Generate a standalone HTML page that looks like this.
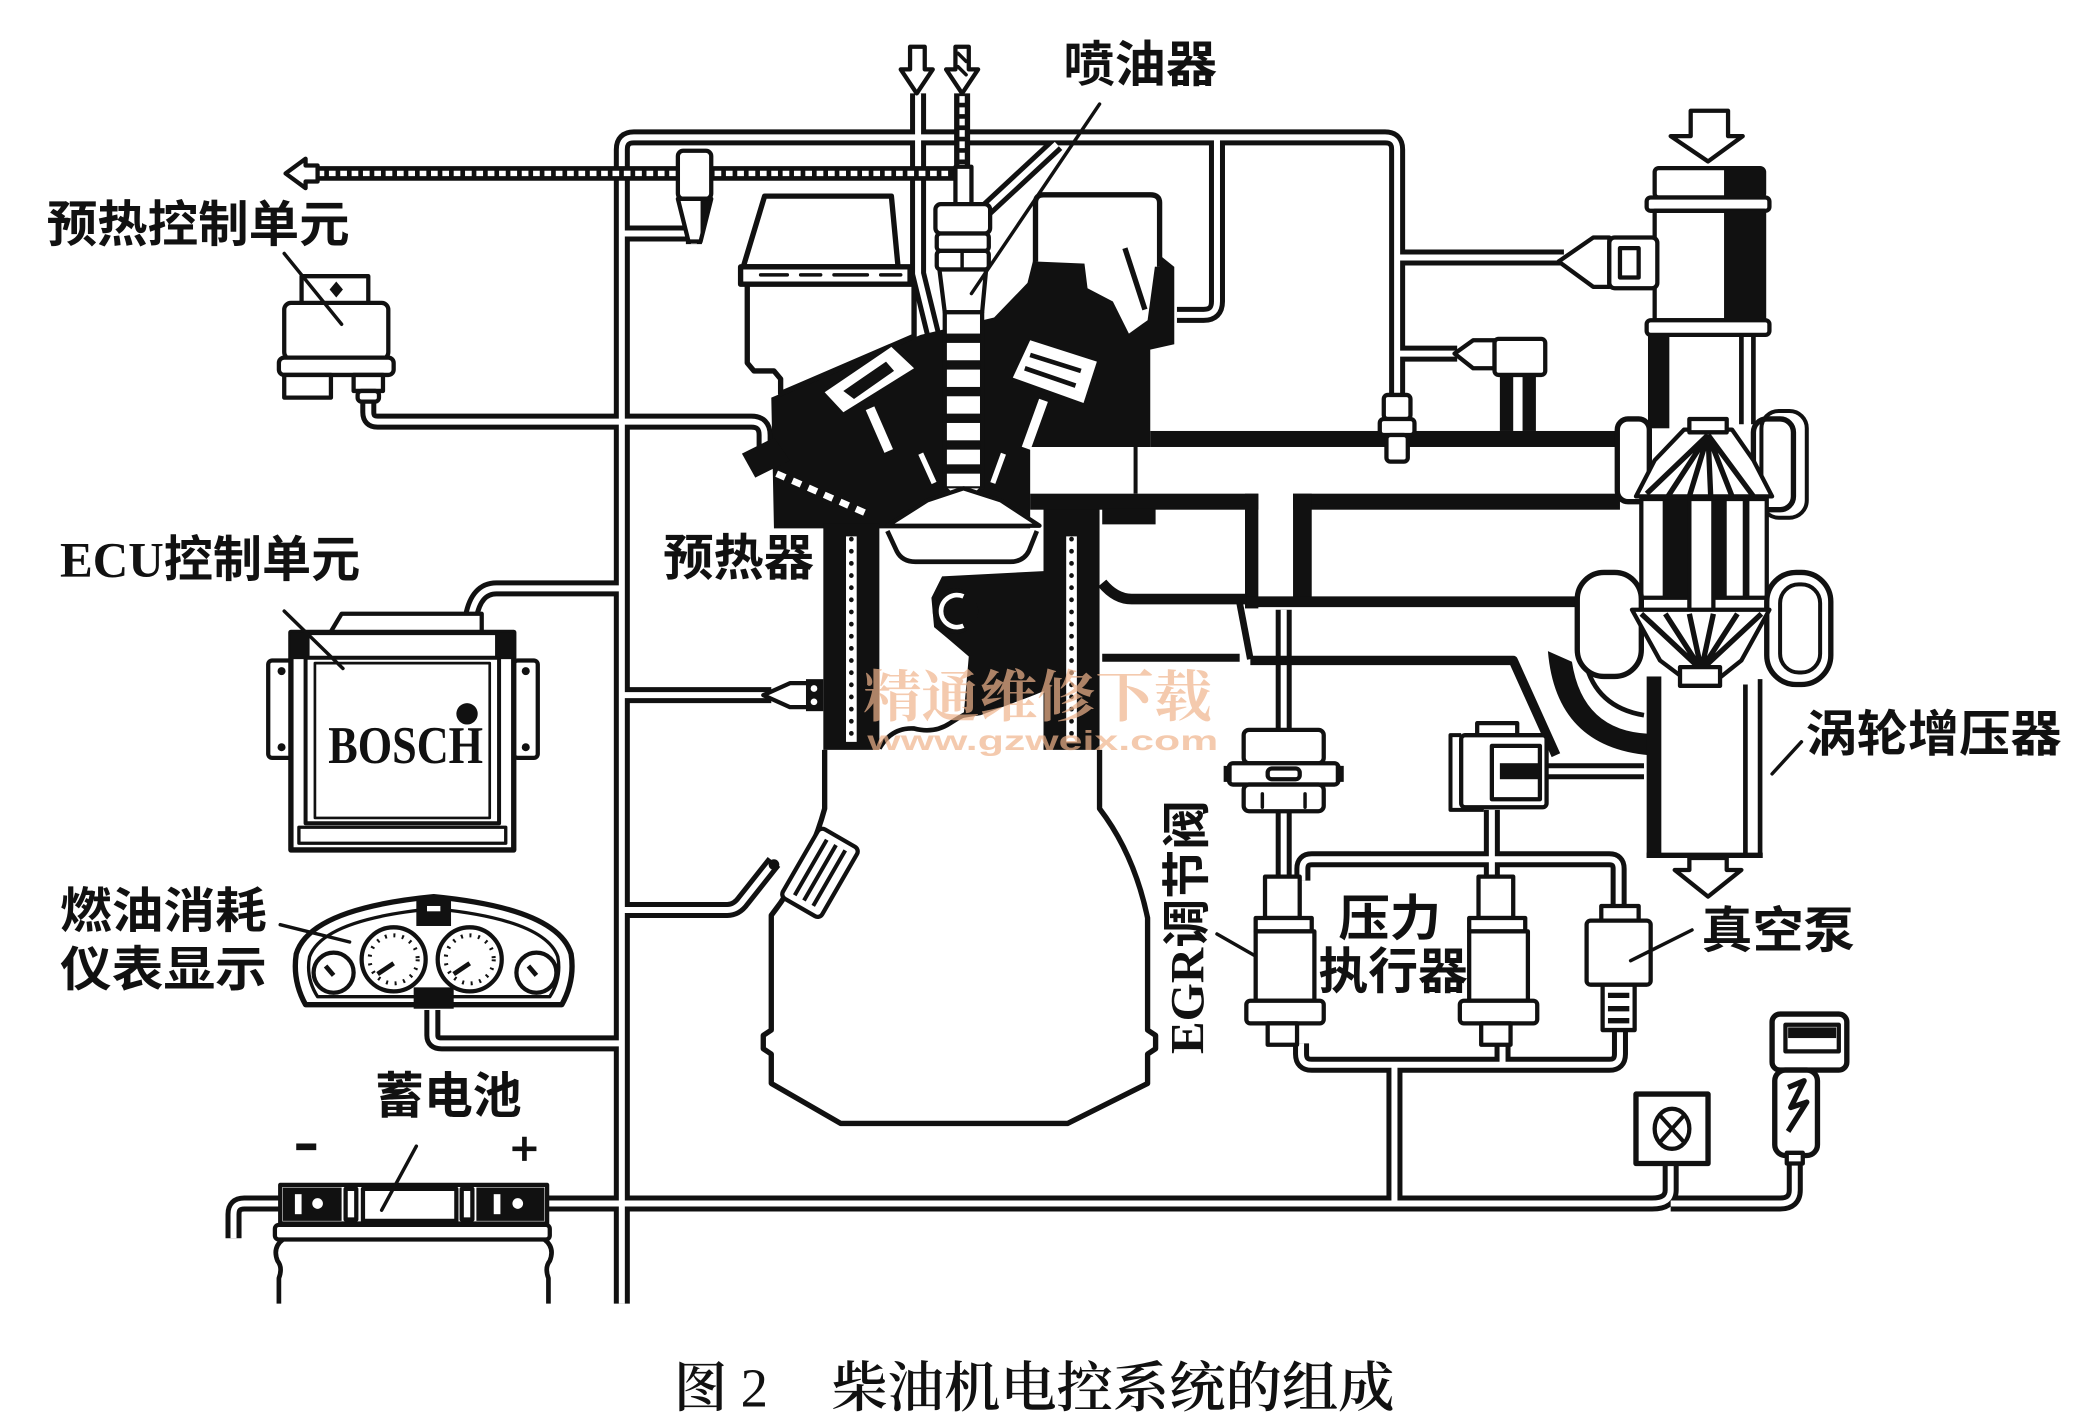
<!DOCTYPE html>
<html><head><meta charset="utf-8">
<style>
html,body{margin:0;padding:0;background:#fff;}
svg{display:block;}
.c{font-family:"Liberation Sans","Noto Sans CJK SC",sans-serif;font-weight:700;fill:#111;}
.sf{font-family:"Liberation Serif","Noto Serif CJK SC",serif;font-weight:700;fill:#111;}
.cap{font-family:"Liberation Serif","Noto Serif CJK SC",serif;font-weight:600;fill:#111;}
.o{fill:#fff;stroke:#111;stroke-width:3.2;stroke-linejoin:round;}
.o4{fill:#fff;stroke:#111;stroke-width:4;stroke-linejoin:round;}
.k{fill:#111;}
.l{fill:none;stroke:#111;stroke-width:2.6;stroke-linecap:round;}
.ln{fill:none;stroke:#111;stroke-linejoin:round;}
</style></head><body>
<svg width="2075" height="1417" viewBox="0 0 1555 1062" preserveAspectRatio="none" xmlns="http://www.w3.org/2000/svg">
<defs>
<g id="tb" fill="none" stroke-linejoin="round">
<path d="M466,977 V112 Q466,103 475,103 H1038 Q1047,103 1047,112 V298"/>
<path d="M912,103 V226 Q912,236 902,236 H882"/>
<path d="M1047,193 H1172"/>
<path d="M1047,265 H1092"/>
<path d="M520,183 V180 Q520,175 515,175 H466"/>
<path d="M276,298 V309 Q276,316 283,316 H563 Q573,316 573,326 V340"/>
<path d="M353,462 Q357,441 372,441 H466"/>
<path d="M466,521 H578"/>
<path d="M466,682 H545 Q552,682 557,675 L580,646"/>
<path d="M324,757 V776 Q324,782 331,782 H466"/>
<path d="M410,902 H1238 Q1252,902 1252,892 V872"/>
<path d="M1252,902 H1334 Q1345,902 1345,892 V868"/>
<path d="M210,902 H183 Q175,902 175,910 V928"/>
<path d="M975,782 V790 Q975,798 983,798 H1206 Q1214,798 1214,790 V772"/>
<path d="M1045,798 V902"/>
<path d="M1126,782 V798"/>
<path d="M976,660 V651 Q976,644 983,644 H1206 Q1213,644 1213,651 V680"/>
<path d="M1118,660 V607"/>
<path d="M962,457 V548"/>
<path d="M962,607 V657"/>
<path d="M1150,578 H1232"/>
<path d="M688,70 V205 L702,262"/>
<path d="M736,160 L792,108"/>
</g>
</defs>
<rect width="1555" height="1062" fill="#fff"/>

<use href="#tb" stroke="#111" stroke-width="12"/>
<use href="#tb" stroke="#fff" stroke-width="4.5"/>

<path d="M236,130 H716" stroke="#111" stroke-width="11" fill="none"/>
<path d="M238,130 H714" stroke="#fff" stroke-width="4" stroke-dasharray="5 3.5" fill="none"/>
<path d="M721,70 V130" stroke="#111" stroke-width="12" fill="none"/>
<path d="M721,72 V128" stroke="#fff" stroke-width="4" stroke-dasharray="5 3.5" fill="none"/>
<path d="M238,124 H229 V119 L214,130 L229,141 V136 H238 Z" class="o"/>
<path d="M682,35 V52 H675 L687,70 L699,52 H693 V35 Z" class="o"/>
<path d="M716,35 V52 H709 L721,70 L733,52 H726 V35 Z" class="o"/>
<path d="M718,40 L724,46 M718,50 L724,56" class="l"/>

<rect x="508" y="113" width="25" height="36" rx="4" class="o"/>
<path d="M508,149 H533 L525,181 H516 Z" class="o"/>
<path d="M525,150 H533 L525,181 Z" class="k"/>

<polygon points="578,298 690,251 745,238 770,212 775,192 870,192 880,200 880,258 862,262 862,335 772,335 772,396 580,396" class="k"/>
<path d="M573,147 H668 L673,200 H557 Z" class="o4"/>
<rect x="555" y="200" width="127" height="13" class="o4"/>
<path d="M570,206 H590 M600,206 H615 M625,206 H650 M660,206 H675" class="l" stroke-width="3"/>
<polygon points="560,213 685,213 685,252 585,295 585,284 580,278 565,278 560,272" class="o4"/>
<path d="M776,196 V152 Q776,146 782,146 H862 Q869,146 869,152 V200" class="o4"/>
<polygon points="812,192 848,176 866,196 860,240 846,250 834,226 815,216" fill="#fff"/>
<path d="M843,186 L858,232" stroke="#111" stroke-width="4"/>
<polygon points="618,294 668,260 685,276 632,309" fill="#fff"/>
<path d="M632,293 L664,271 L670,278 L640,299 Z" class="k"/>
<path d="M652,306 L666,338" stroke="#fff" stroke-width="7"/>
<polygon points="772,255 822,271 812,302 759,283" fill="#fff"/>
<path d="M772,266 L810,278 M768,276 L806,289" stroke="#111" stroke-width="3.5"/>
<path d="M782,300 L769,336" stroke="#fff" stroke-width="7"/>
<path d="M690,340 L700,362 M752,340 L744,362" stroke="#fff" stroke-width="4"/>
<polygon points="556,340 580,328 592,345 566,358" class="k"/>
<path d="M582,355 L652,386" stroke="#fff" stroke-width="5" stroke-dasharray="7 6"/>

<rect x="716" y="125" width="12" height="28" class="o"/>
<rect x="701" y="153" width="41" height="22" rx="4" class="o"/>
<rect x="702" y="175" width="39" height="13" rx="3" class="o"/>
<rect x="702" y="188" width="39" height="14" rx="3" class="o"/>
<path d="M721,188 V202" class="l"/>
<path d="M704,202 H739 L736,234 H708 Z" class="o"/>
<rect x="708" y="234" width="28" height="132" class="o"/>
<g class="k">
<rect x="709" y="250" width="26" height="7"/>
<rect x="709" y="270" width="26" height="7"/>
<rect x="709" y="290" width="26" height="7"/>
<rect x="709" y="310" width="26" height="7"/>
<rect x="709" y="330" width="26" height="7"/>
<rect x="709" y="348" width="26" height="7"/>
</g>
<path d="M708,366 L722,379 L736,366" class="o"/>
<path d="M824,78 L728,220" class="l"/>

<polygon points="665,394 695,375 722,366 750,375 779,394" class="o"/>

<rect x="617" y="392" width="42" height="170" class="k"/>
<rect x="782" y="380" width="42" height="182" class="k"/>
<path d="M638,402 V556" stroke="#fff" stroke-width="8"/>
<path d="M638,404 V554" stroke="#111" stroke-width="3.5" stroke-dasharray="0.1 9" stroke-linecap="round"/>
<path d="M803,402 V556" stroke="#fff" stroke-width="8"/>
<path d="M803,404 V554" stroke="#111" stroke-width="3.5" stroke-dasharray="0.1 9" stroke-linecap="round"/>
<path d="M665,398 L672,413 Q676,421 686,421 H757 Q767,421 771,413 L777,398" class="ln" stroke-width="3.5"/>
<polygon points="706,432 782,428 782,518 759,527 735,536 722,538 726,492 712,480 700,470 698,448" class="k"/>
<circle cx="716" cy="458" r="17" class="k"/>
<path d="M722,447 A12,12 0 1,0 722,469" fill="none" stroke="#fff" stroke-width="3.5"/>
<path d="M659,561 Q668,545 685,546 Q700,550 712,542 Q725,533 740,529 Q760,526 782,516" class="ln" stroke-width="3.5"/>
<path d="M618,562 V606 Q606,650 578,686 V772 L572,776 V786 L578,790 V812 L630,842 H800 L860,812 V790 L866,786 V776 L860,772 V688 Q850,640 824,606 V562" class="ln" stroke-width="4"/>

<rect x="862" y="323" width="352" height="12" class="k"/>
<rect x="772" y="370" width="171" height="12" class="k"/>
<rect x="969" y="370" width="245" height="12" class="k"/>
<path d="M851,335 V370" class="ln" stroke-width="3"/>
<rect x="933" y="370" width="10" height="86" class="k"/>
<rect x="969" y="370" width="14" height="82" class="k"/>
<rect x="826" y="381" width="40" height="12" class="k"/>
<path d="M826,437 Q836,449 848,449 H934" class="ln" stroke-width="8"/>
<path d="M934,451 H1232" class="ln" stroke-width="8"/>
<path d="M826,493 H929" class="ln" stroke-width="6"/>
<path d="M929,452 L937,494" class="ln" stroke-width="5"/>
<path d="M937,495 H1134 L1166,566" class="ln" stroke-width="7"/>
<path d="M1160,488 Q1166,560 1236,566 L1236,550 Q1186,548 1178,496 Z" class="k"/>
<path d="M1188,496 Q1196,530 1232,536" class="ln" stroke-width="3.5"/>

<path d="M1267,83 H1295 V102 H1306 L1280,121 L1252,102 H1267 Z" class="o"/>
<rect x="1240" y="126" width="82" height="22" rx="3" class="o"/>
<rect x="1234" y="148" width="92" height="10" rx="3" class="o"/>
<rect x="1240" y="158" width="82" height="82" class="o"/>
<rect x="1234" y="240" width="92" height="11" rx="3" class="o"/>
<rect x="1292" y="127" width="30" height="21" class="k"/>
<rect x="1292" y="158" width="30" height="82" class="k"/>
<path d="M1168,196 L1194,178 H1206 V215 H1194 Z" class="o"/>
<rect x="1206" y="178" width="36" height="38" rx="4" class="o"/>
<rect x="1214" y="186" width="14" height="22" class="o"/>
<path d="M1090,265 L1104,255 H1120 V276 H1104 Z" class="o"/>
<rect x="1120" y="254" width="38" height="27" rx="3" class="o"/>
<rect x="1124" y="281" width="10" height="42" class="k"/>
<rect x="1141" y="281" width="10" height="42" class="k"/>
<rect x="1037" y="296" width="20" height="18" rx="3" class="o"/>
<rect x="1034" y="314" width="26" height="12" rx="3" class="o"/>
<rect x="1039" y="326" width="16" height="20" rx="3" class="o"/>
<rect x="1235" y="251" width="16" height="70" class="k"/>
<path d="M1305,251 V318 M1314,251 V318" class="ln" stroke-width="3.5"/>
<rect x="1212" y="314" width="24" height="62" rx="8" class="o4"/>
<rect x="1314" y="314" width="30" height="68" rx="10" class="o4"/>
<rect x="1320" y="308" width="34" height="80" rx="13" class="ln" stroke-width="3"/>
<polygon points="1226,372 1240,345 1262,322 1298,322 1314,345 1328,372" class="o"/>
<path d="M1280,326 L1234,370 M1280,326 L1250,372 M1280,326 L1266,372 M1280,326 L1282,372 M1280,326 L1298,372 M1280,326 L1314,372" class="ln" stroke-width="4"/>
<rect x="1266" y="314" width="28" height="10" class="o"/>
<rect x="1230" y="374" width="94" height="74" class="o"/>
<rect x="1246" y="374" width="20" height="74" class="k"/>
<rect x="1284" y="374" width="10" height="74" class="k"/>
<rect x="1306" y="374" width="5" height="74" class="k"/>
<rect x="1266" y="374" width="18" height="86" class="o"/>
<rect x="1182" y="429" width="48" height="78" rx="20" class="o4" stroke-width="5"/>
<rect x="1324" y="429" width="48" height="84" rx="22" class="o4" stroke-width="5"/>
<rect x="1334" y="438" width="30" height="66" rx="14" class="ln" stroke-width="3"/>
<polygon points="1223,457 1326,457 1305,495 1290,507 1260,507 1244,495" class="o"/>
<path d="M1275,502 L1230,460 M1275,502 L1248,460 M1275,502 L1266,460 M1275,502 L1284,460 M1275,502 L1302,460 M1275,502 L1320,460" class="ln" stroke-width="4"/>
<rect x="1259" y="500" width="30" height="14" class="o"/>
<rect x="1234" y="507" width="11" height="136" class="k"/>
<path d="M1308,513 V641 M1319,509 V641" class="ln" stroke-width="3.5"/>
<path d="M1234,641 H1321" class="ln" stroke-width="4"/>
<path d="M1266,643 V652 H1255 L1280,672 L1305,652 H1294 V643 Z" class="o"/>

<rect x="932" y="547" width="60" height="25" rx="4" class="o"/>
<rect x="921" y="572" width="82" height="16" rx="3" class="o"/>
<rect x="917" y="574" width="6" height="12" class="k"/>
<rect x="1001" y="574" width="6" height="12" class="k"/>
<rect x="932" y="588" width="60" height="20" rx="4" class="o"/>
<rect x="950" y="576" width="24" height="8" rx="3" class="o"/>
<path d="M946,595 V605 M978,595 V605" class="l"/>
<rect x="948" y="657" width="26" height="31" class="o"/>
<rect x="941" y="688" width="42" height="10" class="o"/>
<rect x="941" y="698" width="44" height="52" class="o"/>
<rect x="934" y="750" width="58" height="17" rx="3" class="o"/>
<rect x="950" y="767" width="22" height="16" class="o"/>
<path d="M1095,551 H1087 V607 H1112" class="ln" stroke-width="3"/>
<rect x="1107" y="542" width="30" height="10" class="o"/>
<rect x="1095" y="551" width="64" height="54" rx="3" class="o"/>
<rect x="1118" y="559" width="36" height="40" class="o"/>
<rect x="1124" y="572" width="30" height="12" class="k"/>
<rect x="1108" y="657" width="26" height="31" class="o"/>
<rect x="1101" y="688" width="42" height="10" class="o"/>
<rect x="1101" y="698" width="44" height="52" class="o"/>
<rect x="1094" y="750" width="58" height="17" rx="3" class="o"/>
<rect x="1110" y="767" width="22" height="16" class="o"/>
<rect x="1200" y="679" width="28" height="12" class="o"/>
<rect x="1189" y="690" width="48" height="48" rx="3" class="o"/>
<rect x="1201" y="738" width="24" height="34" class="o"/>
<path d="M1205,746 H1221 M1205,756 H1221 M1205,765 H1221" stroke="#111" stroke-width="4"/>
<rect x="1226" y="820" width="54" height="52" class="o4"/>
<ellipse cx="1253" cy="846" rx="13" ry="15" class="o"/>
<path d="M1244,836 L1262,856 M1262,836 L1244,856" class="ln" stroke-width="3"/>
<rect x="1328" y="760" width="56" height="42" rx="6" class="o4"/>
<rect x="1338" y="768" width="40" height="20" class="o"/>
<rect x="1340" y="770" width="36" height="8" class="k"/>
<rect x="1330" y="802" width="32" height="64" rx="8" class="o4"/>
<path d="M1340,815 L1352,810 L1342,830 L1354,826 L1340,848" class="ln" stroke-width="4"/>
<rect x="1339" y="864" width="12" height="8" class="o"/>

<rect x="226" y="207" width="50" height="21" class="o"/>
<path d="M252,211 L257,217 L252,223 L247,217 Z" class="k"/>
<rect x="213" y="227" width="78" height="42" rx="5" class="o"/>
<rect x="209" y="268" width="86" height="13" rx="4" class="o"/>
<rect x="213" y="281" width="35" height="17" class="o"/>
<rect x="265" y="281" width="22" height="12" class="o"/>
<rect x="268" y="293" width="16" height="8" rx="3" class="o"/>

<rect x="201" y="495" width="20" height="73" rx="3" class="o"/>
<circle cx="211" cy="503" r="3" class="k"/><circle cx="211" cy="560" r="3" class="k"/>
<rect x="385" y="495" width="18" height="73" rx="3" class="o"/>
<circle cx="394" cy="503" r="3" class="k"/><circle cx="394" cy="560" r="3" class="k"/>
<path d="M247,475 L256,460 H361 V475" class="o"/>
<rect x="218" y="474" width="167" height="163" class="o4"/>
<rect x="229" y="493" width="145" height="124" class="ln" stroke-width="3"/>
<rect x="236" y="497" width="131" height="116" class="ln" stroke-width="2"/>
<rect x="224" y="620" width="155" height="12" class="ln" stroke-width="2.5"/>
<rect x="218" y="474" width="14" height="20" class="k"/>
<rect x="371" y="474" width="14" height="20" class="k"/>
<circle cx="350" cy="535" r="8" class="k"/>
<text x="246" y="572" class="sf" font-size="40" textLength="116" lengthAdjust="spacingAndGlyphs">BOSCH</text>

<path d="M229,753 Q219,735 222,715 Q232,681 325,672 Q418,681 428,715 Q431,735 421,753 Z" class="o4"/>
<path d="M238,747 Q229,733 232,717 Q242,689 325,681 Q408,689 418,717 Q421,733 412,747 Z" class="ln" stroke-width="2.5"/>
<circle cx="250" cy="729" r="15" class="o"/>
<circle cx="295" cy="719" r="24" class="o"/>
<circle cx="352" cy="719" r="24" class="o"/>
<circle cx="402" cy="729" r="15" class="o"/>
<circle cx="295" cy="719" r="18" fill="none" stroke="#111" stroke-width="3" stroke-dasharray="1.5 5"/>
<circle cx="352" cy="719" r="18" fill="none" stroke="#111" stroke-width="3" stroke-dasharray="1.5 5"/>
<path d="M295,722 L283,730 M352,722 L340,730 M250,731 L244,724 M402,731 L396,724" class="ln" stroke-width="3.5"/>
<rect x="312" y="672" width="26" height="22" class="k"/>
<rect x="320" y="679" width="10" height="4" fill="#fff"/>
<rect x="310" y="740" width="30" height="16" class="k"/>

<rect x="210" y="888" width="200" height="29" class="o"/>
<rect x="212" y="890" width="44" height="25" class="k"/>
<rect x="221" y="895" width="5" height="15" fill="#fff"/><circle cx="238" cy="902" r="4" fill="#fff"/>
<rect x="259" y="891" width="8" height="23" class="o" stroke-width="2"/>
<rect x="272" y="891" width="70" height="24" class="o"/>
<rect x="346" y="891" width="8" height="23" class="o" stroke-width="2"/>
<rect x="357" y="890" width="51" height="25" class="k"/>
<rect x="370" y="895" width="5" height="15" fill="#fff"/><circle cx="388" cy="902" r="4" fill="#fff"/>
<rect x="206" y="918" width="206" height="11" rx="3" class="o"/>
<path d="M212,929 Q204,935 208,945 Q212,950 209,958 V977 M408,929 Q416,935 412,945 Q408,950 411,958 V977" class="ln" stroke-width="3.5"/>
<rect x="222" y="857" width="15" height="5" class="k"/>
<path d="M384,861 H402 M393,852 V870" class="ln" stroke-width="3.5"/>

<path d="M572,521 L592,512 H606 V530 H592 Z" class="o"/>
<rect x="604" y="509" width="13" height="24" class="k"/>
<circle cx="610" cy="516" r="2.5" fill="#fff"/><circle cx="610" cy="526" r="2.5" fill="#fff"/>
<g transform="rotate(30 614 655)">
<rect x="597" y="624" width="34" height="60" rx="4" class="o"/>
<path d="M606,630 V678 M614,630 V678 M622,630 V678" class="ln" stroke-width="3"/>
</g>
<circle cx="580" cy="648" r="4" class="k"/>

<path d="M213,190 L256,243" class="l"/>
<path d="M213,458 L257,501" class="l"/>
<path d="M210,693 L262,706" class="l"/>
<path d="M312,859 L286,907" class="l"/>
<path d="M912,700 L940,716" class="l"/>
<path d="M1268,697 L1222,720" class="l"/>
<path d="M1350,556 L1328,580" class="l"/>

<text x="797" y="61" class="c" font-size="37" textLength="115" lengthAdjust="spacingAndGlyphs">喷油器</text>
<text x="35" y="181" class="c" font-size="37" textLength="227" lengthAdjust="spacingAndGlyphs">预热控制单元</text>
<text x="45" y="432" class="c" font-size="37" textLength="225" lengthAdjust="spacingAndGlyphs"><tspan class="sf">ECU</tspan>控制单元</text>
<text x="497" y="431" class="c" font-size="37" textLength="113" lengthAdjust="spacingAndGlyphs">预热器</text>
<text x="45" y="695" class="c" font-size="36" textLength="155" lengthAdjust="spacingAndGlyphs">燃油消耗</text>
<text x="45" y="739" class="c" font-size="36" textLength="155" lengthAdjust="spacingAndGlyphs">仪表显示</text>
<text x="281" y="834" class="c" font-size="37" textLength="110" lengthAdjust="spacingAndGlyphs">蓄电池</text>
<text x="1353" y="563" class="c" font-size="37" textLength="192" lengthAdjust="spacingAndGlyphs">涡轮增压器</text>
<text x="1003" y="701" class="c" font-size="37" textLength="77" lengthAdjust="spacingAndGlyphs">压力</text>
<text x="988" y="741" class="c" font-size="37" textLength="112" lengthAdjust="spacingAndGlyphs">执行器</text>
<text x="1275" y="710" class="c" font-size="37" textLength="115" lengthAdjust="spacingAndGlyphs">真空泵</text>
<text transform="translate(902,790) rotate(-90)" x="0" y="0" class="c" font-size="36" textLength="190" lengthAdjust="spacingAndGlyphs"><tspan class="sf">EGR</tspan>调节阀</text>

<text x="647" y="537" font-family="'Noto Serif CJK SC','Liberation Serif',serif" font-weight="700" font-size="42" fill="#f0b48c" fill-opacity="0.7" textLength="261" lengthAdjust="spacingAndGlyphs">精通维修下载</text>
<text x="650" y="562" font-family="'Liberation Sans',sans-serif" font-weight="700" font-size="21" fill="#f0b48c" fill-opacity="0.7" textLength="263" lengthAdjust="spacingAndGlyphs">www.gzweix.com</text>

<text x="505" y="1054" class="cap" font-size="41" textLength="40" lengthAdjust="spacingAndGlyphs">图</text>
<text x="555" y="1054" class="cap" font-size="41" style="font-weight:400">2</text>
<text x="623" y="1054" class="cap" font-size="41" textLength="422" lengthAdjust="spacingAndGlyphs">柴油机电控系统的组成</text>
</svg>
</body></html>
